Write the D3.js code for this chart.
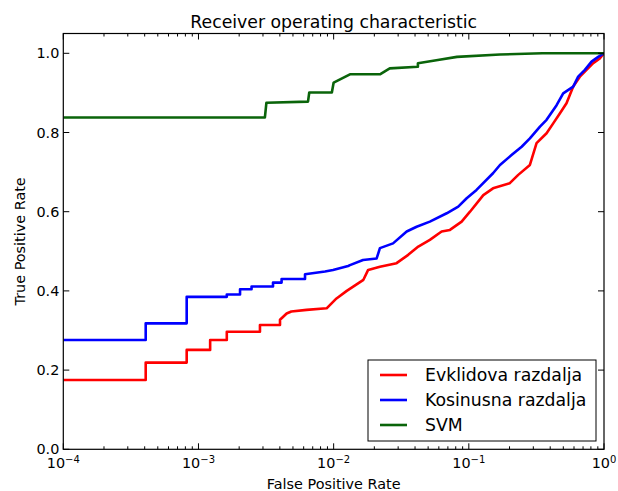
<!DOCTYPE html>
<html lang="en">
  <head>
    <meta charset="utf-8" />
    <title>Receiver operating characteristic</title>
    <script type="text/javascript" src="https://cdn.jsdelivr.net/npm/d3@7"></script>
    <style type="text/css">
      body { margin: 0; background: #fff; }
      text { font-family: "DejaVu Sans", sans-serif; fill: #000; }
    </style>
  </head>

  <body>
    <script type="text/javascript">
      // data
      const series = ["Evklidova razdalja", "Kosinusna razdalja", "SVM"];
      const colors = ["#ff0000", "#0000ff", "#0a640a"];

      const evklidFpr = [1e-4, 0.000407, 0.000407, 0.000818, 0.000818, 0.00122, 0.00122, 0.00162, 0.00162, 0.00285, 0.00285, 0.00401, 0.00401, 0.00449, 0.00486, 0.00631, 0.00887, 0.0105, 0.0125, 0.0166, 0.018, 0.022, 0.0292, 0.0356, 0.0423, 0.0515, 0.0629, 0.0725, 0.0885, 0.102, 0.128, 0.151, 0.201, 0.232, 0.283, 0.317, 0.376, 0.421, 0.471, 0.528, 0.592, 0.663, 0.743, 0.832, 0.931, 1.0];
      const evklidTpr = [0.175, 0.175, 0.219, 0.219, 0.251, 0.251, 0.276, 0.276, 0.297, 0.297, 0.314, 0.314, 0.327, 0.343, 0.348, 0.352, 0.356, 0.381, 0.4, 0.428, 0.453, 0.461, 0.47, 0.491, 0.512, 0.529, 0.55, 0.554, 0.575, 0.6, 0.642, 0.659, 0.672, 0.693, 0.718, 0.773, 0.798, 0.823, 0.848, 0.874, 0.916, 0.941, 0.958, 0.975, 0.987, 1.0];

      const kosinFpr = [1e-4, 0.000407, 0.000407, 0.000818, 0.000818, 0.00162, 0.00162, 0.00203, 0.00203, 0.00247, 0.00247, 0.00356, 0.00356, 0.00412, 0.00412, 0.00614, 0.00614, 0.00863, 0.00989, 0.0128, 0.0132, 0.0165, 0.0208, 0.022, 0.0275, 0.0347, 0.0411, 0.0515, 0.0686, 0.0835, 0.0964, 0.114, 0.151, 0.17, 0.207, 0.246, 0.283, 0.336, 0.376, 0.446, 0.499, 0.592, 0.644, 0.722, 0.809, 0.906, 1.0];
      const kosinTpr = [0.276, 0.276, 0.318, 0.318, 0.385, 0.385, 0.391, 0.391, 0.404, 0.404, 0.411, 0.411, 0.421, 0.421, 0.43, 0.43, 0.442, 0.449, 0.453, 0.463, 0.465, 0.478, 0.482, 0.508, 0.52, 0.55, 0.562, 0.575, 0.596, 0.613, 0.634, 0.655, 0.697, 0.718, 0.743, 0.764, 0.785, 0.815, 0.832, 0.869, 0.899, 0.916, 0.941, 0.958, 0.979, 0.991, 1.0];

      const svmFpr = [1e-4, 0.0031, 0.00318, 0.00646, 0.0066, 0.0097, 0.01, 0.0132, 0.022, 0.026, 0.042, 0.042, 0.059, 0.0817, 0.17, 0.35, 1.0];
      const svmTpr = [0.838, 0.838, 0.875, 0.878, 0.901, 0.901, 0.926, 0.947, 0.947, 0.962, 0.966, 0.975, 0.983, 0.991, 0.997, 1.0, 1.0];

      const xTicks = [1e-4, 1e-3, 1e-2, 1e-1, 1];
      const xTickExp = ["-4", "-3", "-2", "-1", "0"];
      const yTicks = [0, 0.2, 0.4, 0.6, 0.8, 1.0];
      const yTickLabels = ["0.0", "0.2", "0.4", "0.6", "0.8", "1.0"];

      const lines = [
        { name: series[0], color: colors[0], fpr: evklidFpr, tpr: evklidTpr },
        { name: series[1], color: colors[1], fpr: kosinFpr, tpr: kosinTpr },
        { name: series[2], color: colors[2], fpr: svmFpr, tpr: svmTpr },
      ];

      const W = 618, H = 491;
      const axL = 63.3, axR = 604, axT = 33.5, axB = 449.3;

      const svg = d3.select("body").append("svg")
        .attr("width", W)
        .attr("height", H);

      const x = d3.scaleLog().domain([1e-4, 1]).range([axL, axR]);
      const y = d3.scaleLinear().domain([0, 1.05]).range([axB, axT]);

      // clip so the curves stay inside the axes
      svg.append("clipPath").attr("id", "clip")
        .append("rect")
        .attr("x", axL).attr("y", axT)
        .attr("width", axR - axL).attr("height", axB - axT);

      const line = d3.line()
        .x(function (d) { return x(d[0]); })
        .y(function (d) { return y(d[1]); });

      svg.append("g").attr("clip-path", "url(#clip)")
        .selectAll("path")
        .data(lines)
        .enter()
        .append("path")
        .attr("d", function (d) {
          return line(d.fpr.map(function (f, i) { return [f, d.tpr[i]]; }));
        })
        .attr("fill", "none")
        .attr("stroke", function (d) { return d.color; })
        .attr("stroke-width", 2.6)
        .attr("stroke-linejoin", "round");

      // minor ticks for the log axis
      const minor = [];
      for (let e = -4; e < 0; e++) {
        for (let m = 2; m < 10; m++) minor.push(m * Math.pow(10, e));
      }

      const ticks = svg.append("g").attr("stroke", "#000").attr("stroke-width", 1);
      [axB, axT].forEach(function (edge) {
        const dir = edge === axB ? -1 : 1;
        ticks.selectAll(null).data(xTicks).enter().append("line")
          .attr("x1", function (d) { return x(d); }).attr("x2", function (d) { return x(d); })
          .attr("y1", edge).attr("y2", edge + dir * 6);
        ticks.selectAll(null).data(minor).enter().append("line")
          .attr("x1", function (d) { return x(d); }).attr("x2", function (d) { return x(d); })
          .attr("y1", edge).attr("y2", edge + dir * 3);
      });
      [axL, axR].forEach(function (edge) {
        const dir = edge === axL ? 1 : -1;
        ticks.selectAll(null).data(yTicks).enter().append("line")
          .attr("x1", edge).attr("x2", edge + dir * 6)
          .attr("y1", function (d) { return y(d); }).attr("y2", function (d) { return y(d); });
      });

      // frame
      svg.append("rect")
        .attr("x", axL).attr("y", axT)
        .attr("width", axR - axL).attr("height", axB - axT)
        .attr("fill", "none")
        .attr("stroke", "#000")
        .attr("stroke-width", 1.2);

      // y tick labels
      svg.selectAll(null).data(yTicks).enter().append("text")
        .attr("x", axL - 4)
        .attr("y", function (d) { return y(d); })
        .attr("dy", "0.36em")
        .attr("text-anchor", "end")
        .style("font-size", "14.4px")
        .text(function (d, i) { return yTickLabels[i]; });

      // x tick labels as 10 with a superscript
      const xl = svg.selectAll(null).data(xTicks).enter().append("text")
        .attr("x", function (d) { return x(d); })
        .attr("y", 468.3)
        .attr("text-anchor", "middle")
        .style("font-size", "14.4px");
      xl.append("tspan").text("10");
      xl.append("tspan")
        .attr("dy", -5.5)
        .style("font-size", "10px")
        .text(function (d, i) { return xTickExp[i].replace("-", "\u2212"); });

      // title and axis labels
      svg.append("text")
        .attr("x", (axL + axR) / 2).attr("y", 28.3)
        .attr("text-anchor", "middle")
        .style("font-size", "17.3px")
        .text("Receiver operating characteristic");

      svg.append("text")
        .attr("x", (axL + axR) / 2).attr("y", 489)
        .attr("text-anchor", "middle")
        .style("font-size", "14.4px")
        .text("False Positive Rate");

      svg.append("text")
        .attr("transform", "translate(24.5," + (axT + axB) / 2 + ") rotate(-90)")
        .attr("text-anchor", "middle")
        .style("font-size", "14.4px")
        .text("True Positive Rate");

      // legend
      const lg = svg.append("g");
      lg.append("rect")
        .attr("x", 368).attr("y", 360)
        .attr("width", 228).attr("height", 81)
        .attr("fill", "#fff")
        .attr("stroke", "#000")
        .attr("stroke-width", 1);
      const item = lg.selectAll("g.item").data(lines).enter().append("g")
        .attr("transform", function (d, i) { return "translate(0," + (375 + i * 25) + ")"; });
      item.append("line")
        .attr("x1", 380).attr("x2", 407)
        .attr("stroke", function (d) { return d.color; })
        .attr("stroke-width", 2.6);
      item.append("text")
        .attr("x", 425)
        .attr("dy", "0.36em")
        .style("font-size", "17.3px")
        .text(function (d) { return d.name; });
    </script>
  </body>
</html>
